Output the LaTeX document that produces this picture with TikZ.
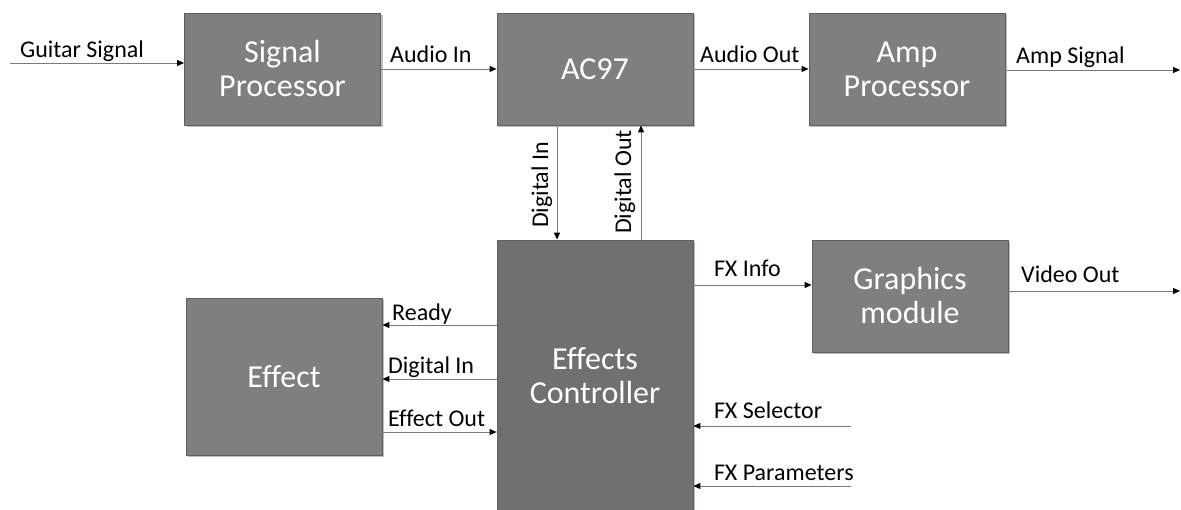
\documentclass[tikz,border=0pt]{standalone}
\usepackage{fontspec}
\setmainfont{Carlito}[Ligatures=NoCommon]
\usetikzlibrary{arrows.meta,shadows}
\definecolor{boxgray}{HTML}{7F7F7F}
\definecolor{ecgray}{HTML}{736F6E}
\definecolor{boxedge}{HTML}{5E5E5E}
\definecolor{wiregray}{HTML}{7A7A7A}
\tikzset{
  blk/.style={draw=boxedge, line width=0.8pt, fill=boxgray, text=white,
    align=center, inner sep=0pt, minimum width=196pt, minimum height=112pt,
    font=\fontsize{32}{34}\selectfont,
    drop shadow={shadow xshift=2pt, shadow yshift=-2pt, opacity=0.25, fill=black}},
  wire/.style={draw=wiregray, line width=0.9pt,
    -{Triangle[length=7pt,width=6pt,color=black]}},
  lbl/.style={font=\fontsize{24}{28}\selectfont, inner sep=0pt, text=black},
}
\begin{document}
\begin{tikzpicture}[x=1pt,y=-1pt]
\useasboundingbox (0,0) rectangle (1181,510);
% blocks
\node[blk] (sp) at (282.5,69) {Signal\\Processor};
\node[blk] (ac) at (595,69) {AC97};
\node[blk] (amp) at (907,69) {Amp\\Processor};
\node[blk, fill=ecgray, minimum height=272pt] (ec) at (595,376) {Effects\\Controller};
\node[blk] (gm) at (910,296) {Graphics\\module};
\node[blk, minimum height=157pt] (ef) at (284,376.5) {Effect};
% free ends
\coordinate (gsin) at (10,63);
\coordinate (ampout) at (1180,70);
\coordinate (vidout) at (1180,291);
\coordinate (fxsel) at (851,426);
\coordinate (fxpar) at (851,486);
% top row
\draw[wire] (gsin) -- (gsin -| sp.west);
\node[lbl, anchor=base west] (lgs) at (20,58) {Guitar Signal};
\draw[wire] (sp.east |- 0,69) -- (ac.west |- 0,69);
\node[lbl, anchor=base west] (lai) at (390,63) {Audio In};
\draw[wire] (ac.east |- 0,69) -- (amp.west |- 0,69);
\node[lbl, anchor=base west] (lao) at (700,63) {Audio Out};
\draw[wire] (amp.east |- ampout) -- (ampout);
\node[lbl, anchor=base west] (las) at (1016,64) {Amp Signal};
% verticals
\draw[wire] (ac.south -| 557,0) -- (ec.north -| 557,0);
\node[lbl, rotate=90, anchor=base] (ldi) at (548,185) {Digital In};
\draw[wire] (ec.north -| 641,0) -- (ac.south -| 641,0);
\node[lbl, rotate=90, anchor=base] (ldo) at (631,182) {Digital Out};
% right side
\draw[wire] (ec.east |- 0,285) -- (gm.west |- 0,285);
\node[lbl, anchor=base west] (lfi) at (714,277) {FX Info};
\draw[wire] (gm.east |- vidout) -- (vidout);
\node[lbl, anchor=base west] (lvo) at (1021,283) {Video Out};
\draw[wire] (fxsel) -- (fxsel -| ec.east);
\node[lbl, anchor=base west] (lfs) at (714,419) {FX Selector};
\draw[wire] (fxpar) -- (fxpar -| ec.east);
\node[lbl, anchor=base west] (lfp) at (714,480) {FX Parameters};
% left side
\draw[wire] (ec.west |- 0,325) -- (ef.east |- 0,325);
\node[lbl, anchor=base west] (lrd) at (392,321) {Ready};
\draw[wire] (ec.west |- 0,379) -- (ef.east |- 0,379);
\node[lbl, anchor=base west] (ldl) at (388,374) {Digital In};
\draw[wire] (ef.east |- 0,432) -- (ec.west |- 0,432);
\node[lbl, anchor=base west] (leo) at (388,427) {Effect Out};
\end{tikzpicture}
\end{document}
